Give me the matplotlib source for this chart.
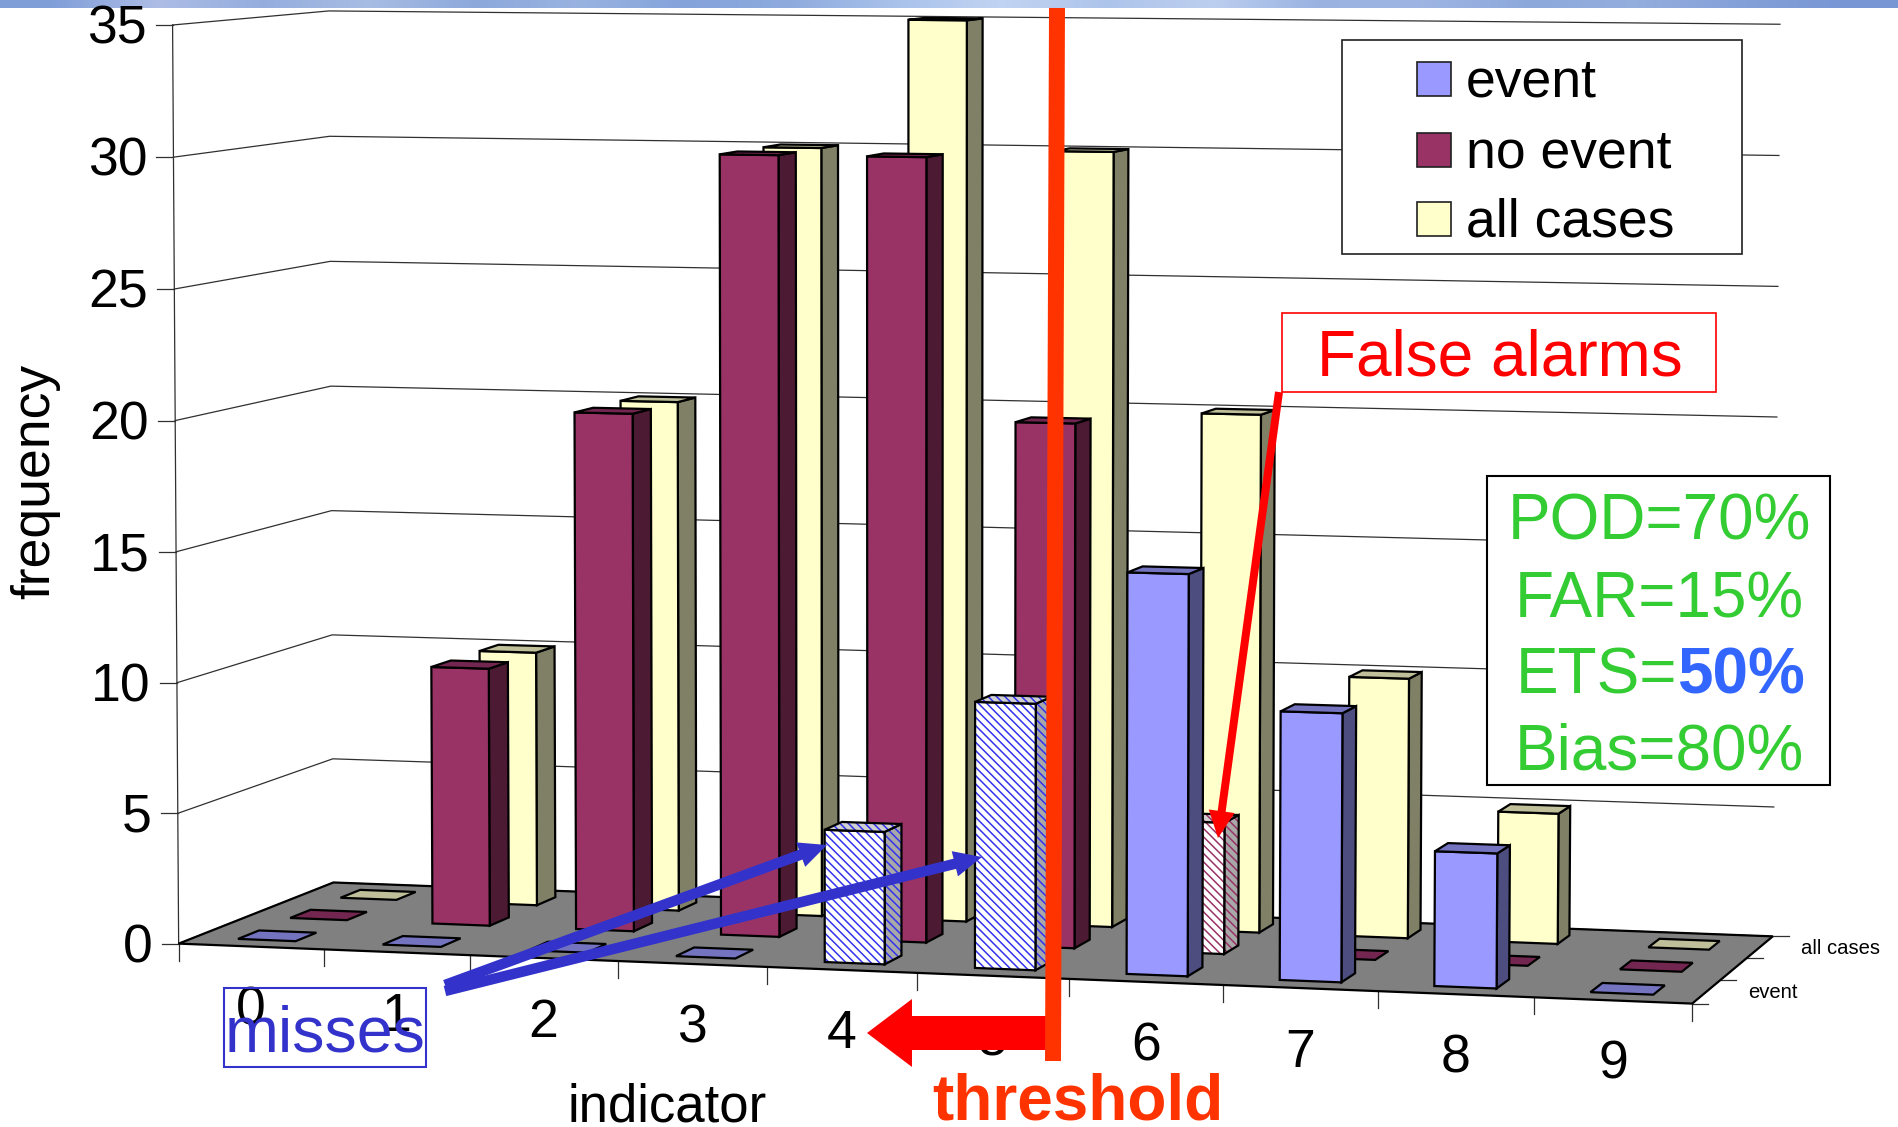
import numpy as np
import matplotlib
matplotlib.use('Agg')
import matplotlib.pyplot as plt
from matplotlib.patches import FancyArrow, Rectangle

plt.rcParams['font.family'] = ['Liberation Sans', 'DejaVu Sans']
plt.rcParams['hatch.linewidth'] = 1.1

# chart values
categories = [0, 1, 2, 3, 4, 5, 6, 7, 8, 9]
event = [0, 0, 0, 0, 5, 10, 15, 10, 5, 0]
no_event = [0, 10, 20, 30, 30, 20, 5, 0, 0, 0]
all_cases = [0, 10, 20, 30, 35, 30, 20, 10, 5, 0]
value_ticks = [0, 5, 10, 15, 20, 25, 30, 35]
misses_at = [4, 5]
false_alarms_at = [6]
stats = ['POD=70%', 'FAR=15%', None, 'Bias=80%']

FRONT, SIDE, TOP = 0, 1, 2
event_cols = ['#9999FF', '#4D4D80', '#7373BF']
no_event_cols = ['#993366', '#4D1A33', '#732650']
all_cols = ['#FFFFCC', '#808066', '#BFBF99']
FLOOR = '#808080'
GRID = '#303030'
ORANGE = '#FF3300'
RED = '#FF0000'
BLUE = '#3333CC'
GREEN = '#33CC33'

# camera fitted to the chart box corners: (category, depth, value) -> pixel
box = [((0, 0, 0), (179, 943)), ((0, 3, 0), (333, 883)),
       ((10, 0, 0), (1692, 1003)), ((10, 3, 0), (1773, 937)),
       ((0, 0, 35), (171.5, 25)), ((0, 3, 35), (330, 11)),
       ((10, 0, 35), (1700, 41)), ((10, 3, 35), (1779, 23))]


def fit_camera(pairs):
    rows = []
    for (x, y, z), (u, v) in pairs:
        rows.append([x, y, z, 1, 0, 0, 0, 0, -u * x, -u * y, -u * z, -u])
        rows.append([0, 0, 0, 0, x, y, z, 1, -v * x, -v * y, -v * z, -v])
    return np.linalg.svd(np.array(rows, float))[2][-1].reshape(3, 4)


camera = fit_camera(box)


def project(x, y, z):
    p = camera @ np.array([x, y, z, 1.0])
    return p[0] / p[2], p[1] / p[2]


fig = plt.figure(figsize=(18.98, 11.27), dpi=100)
ax = fig.add_axes([0, 0, 1, 1])
ax.set_xlim(0, 1898)
ax.set_ylim(1127, 0)
ax.axis('off')


def face(corners, fc, hatch=None, hatch_col=None, z=2):
    pts = [project(*c) for c in corners]
    if hatch:
        ax.fill(*zip(*pts), facecolor=fc, edgecolor=hatch_col, hatch=hatch, lw=0, zorder=z)
        ax.fill(*zip(*pts), fill=False, edgecolor='black', lw=1.6, zorder=z)
    else:
        ax.fill(*zip(*pts), facecolor=fc, edgecolor='black', lw=1.6, zorder=z)


def draw_bar(cat, depth, value, cols, hatch_col=None):
    x0, x1 = cat + 0.3, cat + 0.7
    y0, y1 = depth + 0.3, depth + 0.7
    hatch = '\\\\\\\\' if hatch_col else None
    top_col = '#D0D0D0' if hatch_col else cols[TOP]
    side_col = '#A8A8A8' if hatch_col else cols[SIDE]
    front_col = 'white' if hatch_col else cols[FRONT]
    if value > 0:
        face([(x1, y0, 0), (x1, y1, 0), (x1, y1, value), (x1, y0, value)], side_col, hatch, hatch_col)
        face([(x0, y0, 0), (x1, y0, 0), (x1, y0, value), (x0, y0, value)], front_col, hatch, hatch_col)
    face([(x0, y0, value), (x1, y0, value), (x1, y1, value), (x0, y1, value)], top_col, hatch, hatch_col)


# top banner
banner = np.array([[0.50, 0.62, 0.85], [0.68, 0.74, 0.90], [0.58, 0.68, 0.87], [0.66, 0.74, 0.89],
                   [0.55, 0.66, 0.86], [0.60, 0.70, 0.88], [0.52, 0.64, 0.86], [0.56, 0.67, 0.87],
                   [0.66, 0.76, 0.92], [0.76, 0.83, 0.95], [0.68, 0.77, 0.92], [0.74, 0.81, 0.94],
                   [0.60, 0.70, 0.88], [0.62, 0.71, 0.89], [0.55, 0.66, 0.86], [0.58, 0.68, 0.87],
                   [0.52, 0.63, 0.85], [0.47, 0.59, 0.83]]).reshape(1, -1, 3)
ax.imshow(banner, extent=(0, 1898, 8, 0), aspect='auto', interpolation='bilinear', zorder=1)
ax.set_xlim(0, 1898)
ax.set_ylim(1127, 0)

# walls
for v in value_ticks:
    pts = [project(0, 0, v), project(0, 3, v), project(10, 3, v)]
    ax.plot(*zip(*pts), color=GRID, lw=0.9, zorder=1.5)
    px, py = project(0, 0, v)
    ax.plot([px - 17, px], [py, py], color=GRID, lw=0.9, zorder=1.5)
    ax.text(px - 26, py + 4.5, str(v), ha='right', va='center', fontsize=38.5)
ax.plot(*zip(project(0, 0, 0), project(0, 0, 35)), color=GRID, lw=0.9, zorder=1.5)

# floor
face([(0, 0, 0), (10, 0, 0), (10, 3, 0), (0, 3, 0)], FLOOR, z=1.6)
for c in range(11):
    px, py = project(c, 0, 0)
    ax.plot([px, px], [py, py + 17], color=GRID, lw=0.9, zorder=1.5)
for d in range(4):
    px, py = project(10, d, 0)
    ax.plot([px, px + 16], [py, py], color=GRID, lw=0.9, zorder=1.5)

for c, v in zip(categories, all_cases):
    draw_bar(c, 2, v, all_cols)
for c, v in zip(categories, no_event):
    draw_bar(c, 1, v, no_event_cols, '#993366' if c in false_alarms_at else None)
for c, v in zip(categories, event):
    draw_bar(c, 0, v, event_cols, '#3333EE' if c in misses_at else None)

# axis labels
for c in categories:
    px, py = project(c + 0.5, 0, 0)
    ax.text(px, py + 64.5, str(c), ha='center', va='center', fontsize=38.5, zorder=3)
ax.text(35, 481, 'frequency', rotation=90, ha='center', va='center', fontsize=38.5)
ax.text(667, 1107, 'indicator', ha='center', va='center', fontsize=38)
ax.text(1801, 948, 'all cases', ha='left', va='center', fontsize=14.6)
ax.text(1748, 992, 'event', ha='left', va='center', fontsize=14.6)

# legend
ax.add_patch(Rectangle((1342, 40), 400, 214, fc='white', ec='#202020', lw=1.2, zorder=5))
legend_names = ['event', 'no event', 'all cases']
legend_cols = [event_cols[0], no_event_cols[0], all_cols[0]]
for name, col, y in zip(legend_names, legend_cols, [79, 150, 219]):
    ax.add_patch(Rectangle((1417, y - 17), 34, 34, fc=col, ec='#202020', lw=1.2, zorder=6))
    ax.text(1466, y + 3.5, name, ha='left', va='center', fontsize=38.5, zorder=6)


def arrow(x0, y0, x1, y1, col, width, head_w, head_l, z=7):
    ax.add_patch(FancyArrow(x0, y0, x1 - x0, y1 - y0, width=width, head_width=head_w, head_length=head_l,
                            length_includes_head=True, fc=col, ec='none', zorder=z))


# false alarms note
ax.add_patch(Rectangle((1282.5, 313), 433.5, 79, fc='white', ec=RED, lw=1.2, zorder=7))
ax.text(1500, 358, 'False alarms', color=RED, ha='center', va='center', fontsize=46, zorder=8)
arrow(1279, 392, 1218, 838, RED, 8, 26, 27)

# score box
ax.add_patch(Rectangle((1487.5, 476), 342.5, 309, fc='white', ec='black', lw=1.5, zorder=7))
for text, y in zip(stats, [523, 601, 677, 753]):
    if text:
        ax.text(1659, y, text, color=GREEN, ha='center', va='center', fontsize=46, zorder=8)
ets = ax.text(1516, 677, 'ETS=', color=GREEN, ha='left', va='center', fontsize=46, zorder=8)
ets_box = ets.get_window_extent(fig.canvas.get_renderer())
ax.text(ets_box.x1, 677, '50%', color='#3366FF', fontweight='bold', ha='left', va='center', fontsize=46, zorder=8)

# misses note
ax.add_patch(Rectangle((224, 988), 202, 79, fc='none', ec=BLUE, lw=1.5, zorder=7))
ax.text(325, 1034, 'misses', color=BLUE, ha='center', va='center', fontsize=46.5, zorder=8)
arrow(445, 985, 827, 845, BLUE, 10.5, 26, 28)
arrow(445, 991, 982, 857, BLUE, 10.5, 26, 28)

# threshold
arrow(1048, 1033, 867, 1033, RED, 34, 68, 45)
ax.plot([1057, 1053], [8, 1061], color=ORANGE, lw=11.5, solid_capstyle='butt', zorder=9)
ax.text(1078, 1102, 'threshold', color=ORANGE, fontweight='bold', ha='center', va='center', fontsize=46, zorder=9)

fig.savefig('out.png', dpi=100)
